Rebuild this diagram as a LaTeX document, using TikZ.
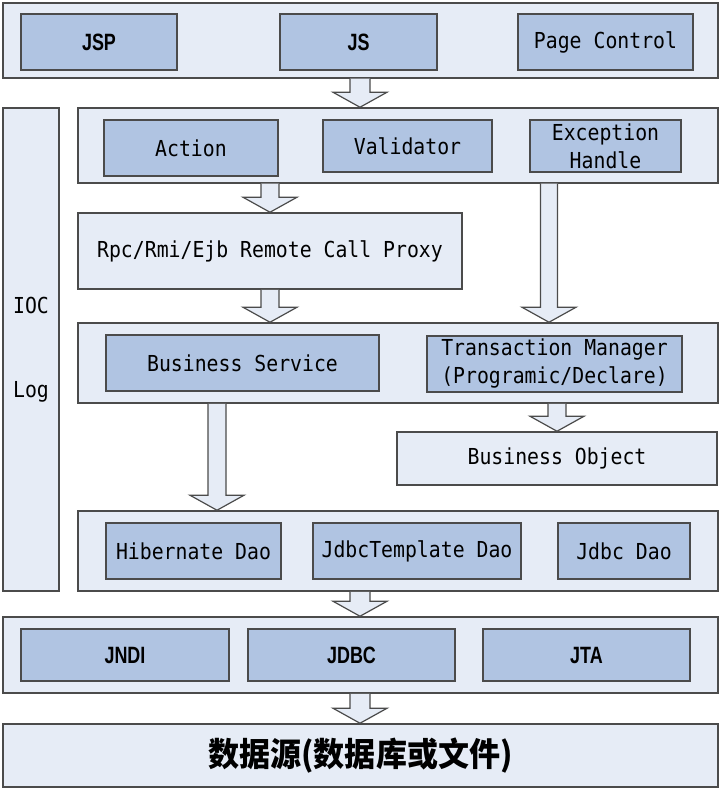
\documentclass[tikz,border=0pt]{standalone}
\usepackage{fontspec}
\newfontfamily\monof[FakeStretch=0.9]{DejaVu Sans Mono}
\newfontfamily\narrowf[FakeStretch=0.76]{Liberation Sans}
\newfontfamily\cjkf[FakeStretch=0.94]{Noto Sans CJK SC}
\usetikzlibrary{calc,fit}
\definecolor{outerc}{RGB}{230,236,246}
\definecolor{innerc}{RGB}{176,196,226}
\definecolor{edgec}{RGB}{75,75,75}
\newcommand\blockarrow[4]{% x (px), half shaft (px), from, to
  \draw[arr] let \p1=(#3), \p2=(#4) in
   (#1*0.5pt-#2*0.5pt,\y1) -- (#1*0.5pt-#2*0.5pt,\y2+7.5pt) -- (#1*0.5pt-13.5pt,\y2+7.5pt)
   -- (#1*0.5pt,\y2) -- (#1*0.5pt+13.5pt,\y2+7.5pt) -- (#1*0.5pt+#2*0.5pt,\y2+7.5pt)
   -- (#1*0.5pt+#2*0.5pt,\y1);}
\begin{document}
\begin{tikzpicture}[x=0.5pt,y=-0.5pt,
  layer/.style={draw=edgec, fill=outerc, line width=0.75pt, inner sep=0pt,
     align=center, font=\monof\fontsize{11}{14}\selectfont},
  inbox/.style={draw=edgec, fill=innerc, line width=0.6pt, inner sep=0pt,
     align=center, font=\monof\fontsize{11}{14}\selectfont},
  narrow/.style={font=\narrowf\bfseries\fontsize{11.8}{14}\selectfont},
  lbl/.style={inner sep=0pt, font=\monof\fontsize{11}{14}\selectfont},
  arr/.style={draw=edgec, fill=outerc, line width=0.6pt, line join=miter}]
\useasboundingbox (0,0) rectangle (722,791);
% layers
\node[layer, fit={(3,3) (718,78)}] (top) {};
\node[layer, fit={(3,108) (59,591)}] (side) {};
\node[layer, fit={(78,108) (718,183)}] (ctl) {};
\node[layer, fit={(78,213) (462,289)}, label={[lbl]center:Rpc/Rmi/Ejb Remote Call Proxy}] (rpc) {};
\node[layer, fit={(78,323) (718,403)}] (svc) {};
\node[layer, fit={(397,432) (717,485)}, label={[lbl]center:Business Object}] (bo) {};
\node[layer, fit={(78,511) (718,591)}] (dao) {};
\node[layer, fit={(3,617) (718,693)}] (jee) {};
\node[layer, fit={(3,724) (718,787)}, label={[inner sep=0pt, font=\cjkf\bfseries\fontsize{16.5}{18}\selectfont]center:数据源(数据库或文件)}] (ds) {};
% side labels
\node[lbl] (ioc) at (31,305) {IOC};
\node[lbl] (log) at (31,392) {Log};
% inner boxes
\node[inbox, fit={(21,14) (177,70)}, label={[narrow]center:JSP}] (jsp) {};
\node[inbox, fit={(280,14) (437,70)}, label={[narrow]center:JS}] (js) {};
\node[inbox, fit={(518,14) (693,70)}, label={[lbl]center:Page Control}] (page) {};
\node[inbox, fit={(104,120) (278,176)}, label={[lbl]center:Action}] (action) {};
\node[inbox, fit={(323,120) (492,172)}, label={[lbl]center:Validator}] (valid) {};
\node[inbox, fit={(530,120) (681,172)}, label={[lbl,align=center]center:Exception\\Handle}] (exc) {};
\node[inbox, fit={(106,335) (379,391)}, label={[lbl]center:Business Service}] (bs) {};
\node[inbox, fit={(427,336) (682,392)}, label={[lbl,align=center]center:Transaction Manager\\(Programic/Declare)}] (tm) {};
\node[inbox, fit={(106,523) (281,579)}, label={[lbl]center:Hibernate Dao}] (hib) {};
\node[inbox, fit={(313,523) (521,579)}, label={[lbl]center:JdbcTemplate Dao}] (jtd) {};
\node[inbox, fit={(558,523) (690,579)}, label={[lbl]center:Jdbc Dao}] (jd) {};
\node[inbox, fit={(21,629) (229,681)}, label={[narrow]center:JNDI}] (jndi) {};
\node[inbox, fit={(248,629) (455,681)}, label={[narrow]center:JDBC}] (jdbc) {};
\node[inbox, fit={(483,629) (690,681)}, label={[narrow]center:JTA}] (jta) {};
% arrows
\blockarrow{360}{10}{top.south}{ctl.north}
\blockarrow{270}{9}{ctl.south}{rpc.north}
\blockarrow{549}{8.5}{ctl.south}{svc.north}
\blockarrow{270}{9}{rpc.south}{svc.north}
\blockarrow{557}{9}{svc.south}{bo.north}
\blockarrow{217}{9}{svc.south}{dao.north}
\blockarrow{360}{10}{dao.south}{jee.north}
\blockarrow{360}{10}{jee.south}{ds.north}
\end{tikzpicture}
\end{document}
